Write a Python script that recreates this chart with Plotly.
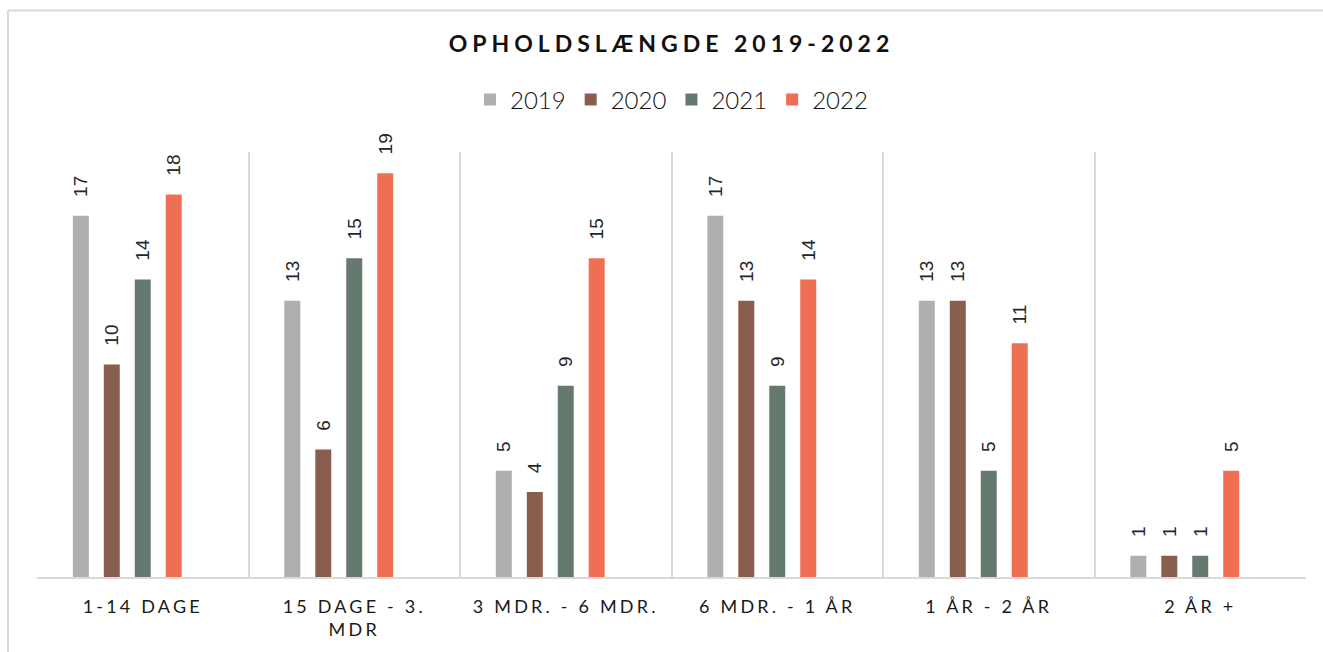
import plotly.graph_objects as go

categories = ["1-14 DAGE", "15 DAGE - 3.<br>MDR", "3 MDR. - 6 MDR.", "6 MDR. - 1 ÅR", "1 ÅR - 2 ÅR", "2 ÅR +"]
years = ["2019", "2020", "2021", "2022"]
v2019 = [17, 13, 5, 17, 13, 1]
v2020 = [10, 6, 4, 13, 13, 1]
v2021 = [14, 15, 9, 9, 5, 1]
v2022 = [18, 19, 15, 14, 11, 5]
series = [v2019, v2020, v2021, v2022]
colors = ["#AFAFAE", "#8A5E4E", "#66796F", "#EE6F53"]

W, H = 1323, 652
ML, MR, MT, MB = 37, 17, 152, 75

fig = go.Figure()
for name, vals, col in zip(years, series, colors):
    fig.add_trace(go.Bar(
        x=categories, y=vals, name=name,
        marker=dict(color=col, line=dict(width=0)),
        texttemplate="\u00a0\u00a0\u00a0%{y}",
        textposition="outside", textangle=-90,
        constraintext="none", cliponaxis=False,
        textfont=dict(family="Liberation Sans", size=19, color="#262626"),
    ))
# empty fifth slot (Excel chart reserves space for an unused series)
fig.add_trace(go.Bar(x=categories, y=[0] * len(categories), showlegend=False,
                     hoverinfo="skip", marker=dict(opacity=0, line=dict(width=0))))

pw = W - ML - MR
ph = H - MT - MB
bx = (8 - ML) / pw
by = (ph + MT - 10.5) / ph

fig.update_layout(
    width=W, height=H,
    margin=dict(l=ML, r=MR, t=MT, b=MB),
    paper_bgcolor="white", plot_bgcolor="white",
    barmode="group", bargap=0.268, bargroupgap=0.484,
    title=dict(text="<b>OPHOLDSLÆNGDE 2019-2022</b>", x=0.5, xref="paper", xanchor="center",
               y=1 - 44 / H, yanchor="middle",
               font=dict(family="Lato", size=23, color="#111111")),
    legend=dict(orientation="h", x=0.5, xanchor="center", y=(ph + MT - 100) / ph, yanchor="middle",
                font=dict(family="Lato", size=24, color="#111111", weight=300), traceorder="normal"),
    xaxis=dict(tickson="boundaries", showgrid=True, gridcolor="#D9D9D9", gridwidth=2,
               showline=True, linecolor="#D9D9D9", linewidth=2, ticks="",
               ticklabelstandoff=12,
               tickfont=dict(family="Lato", size=18, color="#1a1a1a"), fixedrange=True),
    yaxis=dict(range=[0, 20], visible=False, showgrid=False, zeroline=False),
    shapes=[
        dict(type="line", xref="paper", yref="paper", x0=bx, x1=bx, y0=by, y1=-1,
             line=dict(color="#D9D9D9", width=2)),
        dict(type="line", xref="paper", yref="paper", x0=bx, x1=1.2, y0=by, y1=by,
             line=dict(color="#D9D9D9", width=2)),
    ],
    showlegend=True,
)

post = ("var s=document.createElement('style');"
        "s.textContent='html,body{margin:0;padding:0}.gtitle{letter-spacing:5px}.xtick text{letter-spacing:3.2px}';"
        "document.head.appendChild(s);")
fig.write_html("out.html", post_script=post, config={"displayModeBar": False})
